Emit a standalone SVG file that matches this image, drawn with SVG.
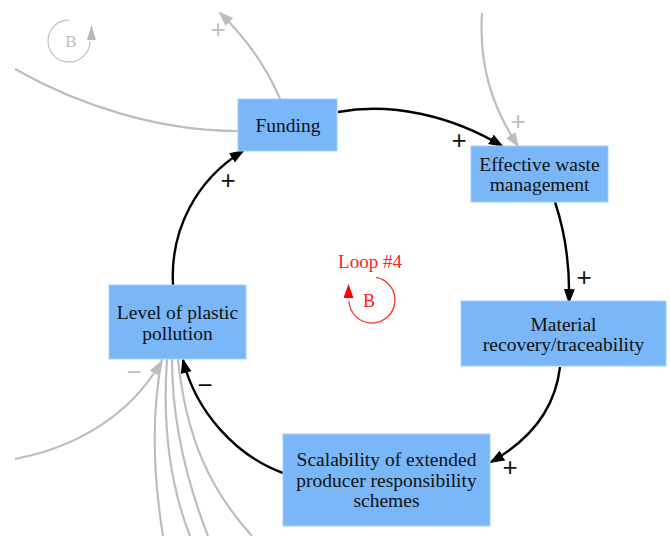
<svg xmlns="http://www.w3.org/2000/svg" width="670" height="536" viewBox="0 0 670 536">
  <style>
    .node rect { fill: #79b7f8; stroke: #a6cff8; stroke-width: 1; }
    .node text { font-family: "Liberation Serif", "Times New Roman", serif; font-size: 19.5px; fill: #111; text-anchor: middle; }
    .link { fill: none; stroke: #000; stroke-width: 2.4; }
    .ext { fill: none; stroke: #bdbdbd; stroke-width: 2.2; }
    .pol { font-family: "Liberation Sans", Arial, sans-serif; font-size: 26px; text-anchor: middle; }
    .pol.k { fill: #111; }
    .pol.g { fill: #bdbdbd; }
    .loop { font-family: "Liberation Serif", "Times New Roman", serif; text-anchor: middle; }
  </style>
  <defs>
    <marker id="ah" markerUnits="userSpaceOnUse" markerWidth="16" markerHeight="12" refX="13" refY="5.5" orient="auto">
      <path d="M0,0 L15,5.5 L0,11 z" fill="#000"/>
    </marker>
    <marker id="ahg" markerUnits="userSpaceOnUse" markerWidth="16" markerHeight="12" refX="13" refY="5.5" orient="auto">
      <path d="M0,0 L15,5.5 L0,11 z" fill="#bdbdbd"/>
    </marker>
  </defs>

  <rect width="670" height="536" fill="#fff"/>

  <!-- links to variables outside this view -->
  <g id="external-links">
    <path class="ext" d="M280,99 C266,66 246,38 220,13" marker-end="url(#ahg)"/>
    <path class="ext" d="M15,69 C80,106 160,131 238,131"/>
    <path class="ext" d="M482,13 C479,62 490,104 518,146" marker-end="url(#ahg)"/>
    <path class="ext" d="M15,459 C82,446 132,412 161,362" marker-end="url(#ahg)"/>
    <path class="ext" d="M162,359 C150,420 154,480 163,536"/>
    <path class="ext" d="M167,359 C162,430 172,490 190,536"/>
    <path class="ext" d="M172,359 C172,430 190,490 208,536"/>
    <path class="ext" d="M178,359 C186,440 212,492 252,536"/>
    <text class="pol g" x="218" y="38">+</text>
    <text class="pol g" x="518" y="130">+</text>
    <text class="pol g" x="134" y="381">−</text>
  </g>

  <!-- loop #4 links -->
  <g id="connectors">
    <path class="link" d="M338,112 C392,102 452,116 502,146" marker-end="url(#ah)"/>
    <path class="link" d="M555,202 C565,232 570,266 569,302" marker-end="url(#ah)"/>
    <path class="link" d="M560,367 C555,410 530,440 491,462" marker-end="url(#ah)"/>
    <path class="link" d="M283,473 C236,456 196,412 183,360" marker-end="url(#ah)"/>
    <path class="link" d="M173,285 C170,230 196,180 243,151" marker-end="url(#ah)"/>
    <text class="pol k" x="459" y="149">+</text>
    <text class="pol k" x="584" y="286">+</text>
    <text class="pol k" x="510" y="476">+</text>
    <text class="pol k" x="205" y="394">−</text>
    <text class="pol k" x="228" y="189">+</text>
  </g>

  <g id="funding" class="node">
    <rect x="238" y="99" width="99" height="52"/>
    <text x="288" y="132">Funding</text>
  </g>
  <g id="effective-waste-management" class="node">
    <rect x="471" y="146" width="137" height="56"/>
    <text x="539.5" y="171">Effective waste</text>
    <text x="539.5" y="191">management</text>
  </g>
  <g id="material-recovery" class="node">
    <rect x="461" y="301" width="205" height="65"/>
    <text x="563.5" y="330.5">Material</text>
    <text x="563.5" y="351">recovery/traceability</text>
  </g>
  <g id="epr-scalability" class="node">
    <rect x="283" y="434" width="207" height="92"/>
    <text x="386.5" y="465.5">Scalability of extended</text>
    <text x="386.5" y="486.5">producer responsibility</text>
    <text x="386.5" y="507">schemes</text>
  </g>
  <g id="plastic-pollution" class="node">
    <rect x="109" y="285" width="137" height="74"/>
    <text x="177.5" y="319">Level of plastic</text>
    <text x="177.5" y="340">pollution</text>
  </g>

  <!-- loop markers -->
  <g id="loop-4">
    <text class="loop" x="370" y="268" font-size="19" fill="#ff2020">Loop #4</text>
    <path d="M376,277.4 A23,23 0 1 1 349,301" fill="none" stroke="#ff3030" stroke-width="1.3"/>
    <polygon points="348.5,284 343.5,298 353.5,298" fill="#ff0000"/>
    <text class="loop" x="369" y="307" font-size="18" fill="#ff2020">B</text>
  </g>
  <g id="loop-other">
    <path d="M69,20 A21,21 0 1 0 90,41" fill="none" stroke="#c4c4c4" stroke-width="1.3"/>
    <polygon points="91.5,25 87,40 96,40" fill="#b8b8b8"/>
    <text class="loop" x="71" y="47" font-size="17" fill="#bdbdbd">B</text>
  </g>
</svg>
